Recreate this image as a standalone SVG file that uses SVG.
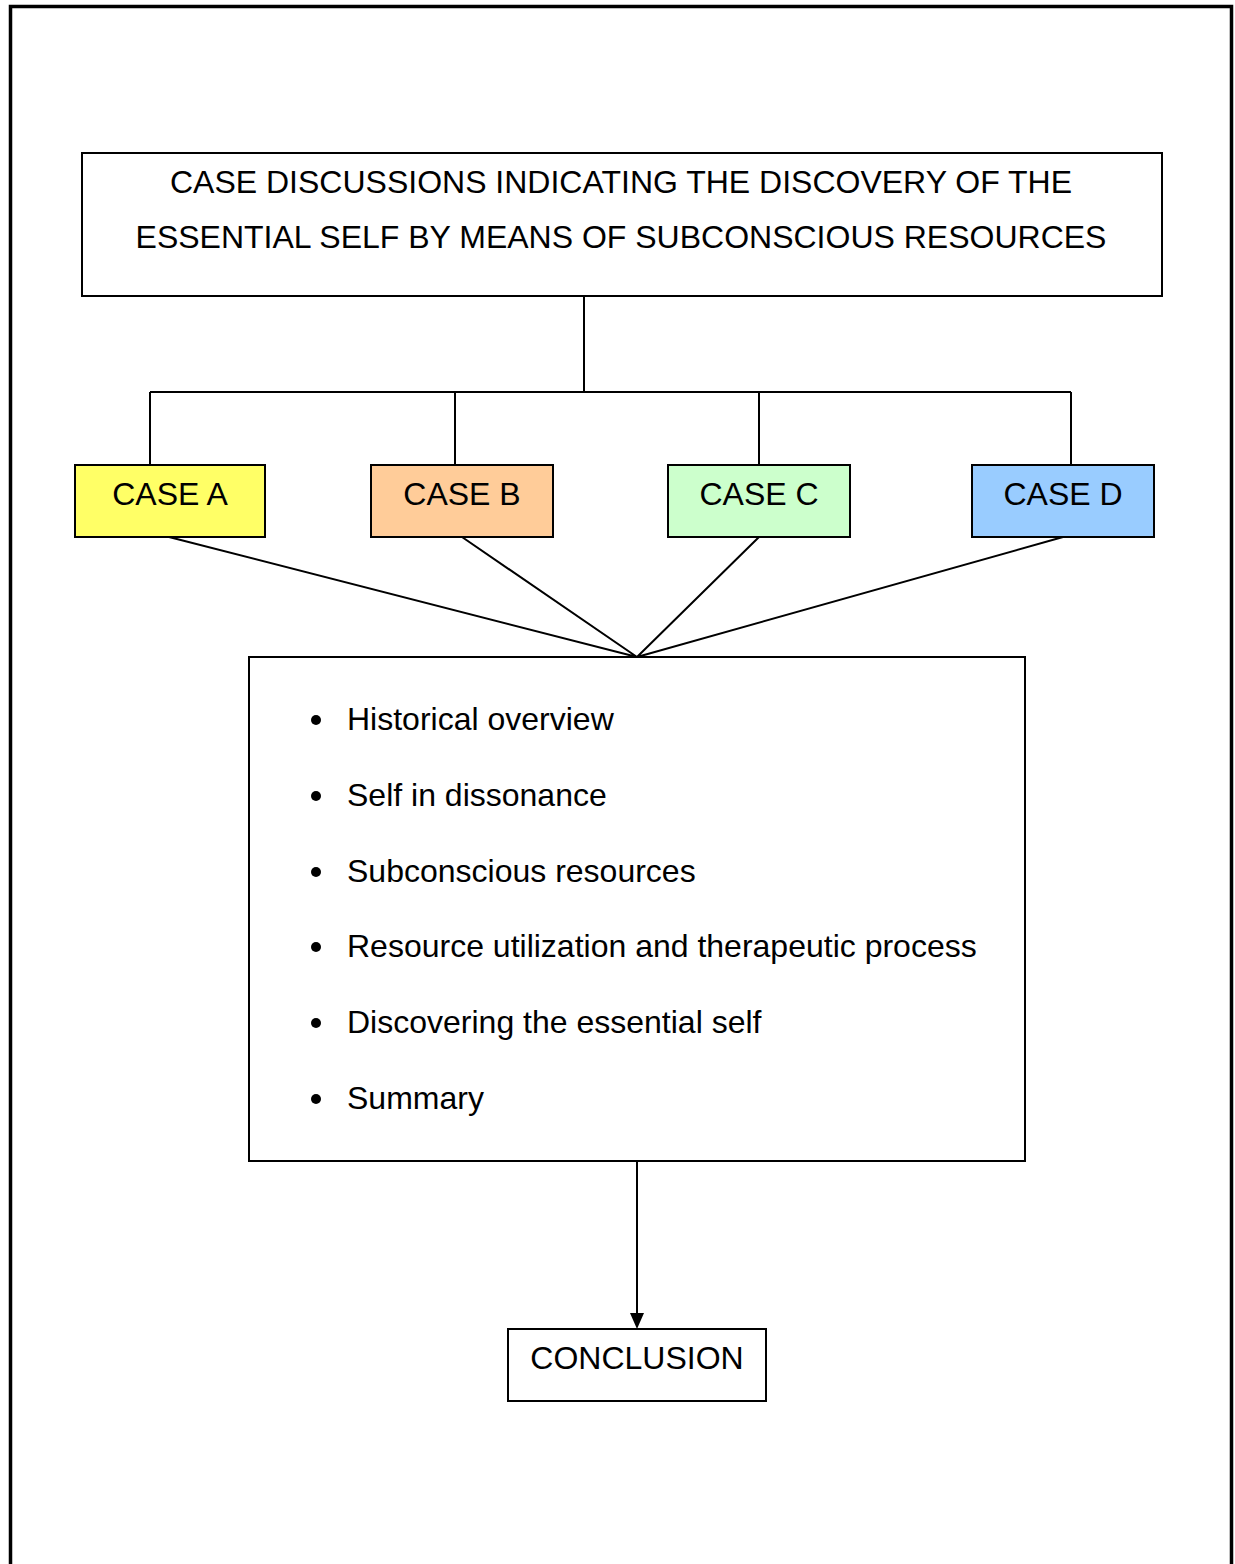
<svg xmlns="http://www.w3.org/2000/svg" width="1235" height="1564" viewBox="0 0 1235 1564">
  <style>
    .box { stroke: #000; stroke-width: 2; }
    .wire { stroke: #000; stroke-width: 2; fill: none; }
    .lbl { font-family: "Liberation Sans", Arial, sans-serif; font-size: 32px; fill: #000; }
    .mid { text-anchor: middle; }
  </style>

  <rect width="1235" height="1564" fill="#fff"/>
  <!-- page frame -->
  <rect x="10.5" y="6.5" width="1221" height="1600" fill="none" stroke="#000" stroke-width="3.5"/>

  <!-- connectors -->
  <g id="connectors">
    <path class="wire" d="M584,296 V392 M150,392 H1071 M150,392 V464 M455,392 V464 M759,392 V464 M1071,392 V464"/>
    <path class="wire" d="M169,537 L637,657 M462,537 L637,657 M759,537 L637,657 M1063,537 L637,657"/>
    <line class="wire" x1="637" y1="1161" x2="637" y2="1313"/>
    <path d="M630,1313 L644,1313 L637,1329 Z" fill="#000"/>
  </g>

  <g id="title">
    <rect class="box" x="82" y="153" width="1080" height="143" fill="#fff"/>
    <text class="lbl mid" x="621" y="193">CASE DISCUSSIONS INDICATING THE DISCOVERY OF THE</text>
    <text class="lbl mid" x="621" y="248">ESSENTIAL SELF BY MEANS OF SUBCONSCIOUS RESOURCES</text>
  </g>

  <g id="case-a">
    <rect class="box" x="75" y="465" width="190" height="72" fill="#ffff66"/>
    <text class="lbl mid" x="170" y="505">CASE A</text>
  </g>
  <g id="case-b">
    <rect class="box" x="371" y="465" width="182" height="72" fill="#ffcc99"/>
    <text class="lbl mid" x="462" y="505">CASE B</text>
  </g>
  <g id="case-c">
    <rect class="box" x="668" y="465" width="182" height="72" fill="#ccffcc"/>
    <text class="lbl mid" x="759" y="505">CASE C</text>
  </g>
  <g id="case-d">
    <rect class="box" x="972" y="465" width="182" height="72" fill="#99ccff"/>
    <text class="lbl mid" x="1063" y="505">CASE D</text>
  </g>

  <g id="topics">
    <rect class="box" x="249" y="657" width="776" height="504" fill="#fff"/>
    <g fill="#000">
      <circle cx="316" cy="720" r="5"/>
      <circle cx="316" cy="796" r="5"/>
      <circle cx="316" cy="872" r="5"/>
      <circle cx="316" cy="947" r="5"/>
      <circle cx="316" cy="1023" r="5"/>
      <circle cx="316" cy="1099" r="5"/>
    </g>
    <text class="lbl" x="347" y="730">Historical overview</text>
    <text class="lbl" x="347" y="806">Self in dissonance</text>
    <text class="lbl" x="347" y="882">Subconscious resources</text>
    <text class="lbl" x="347" y="957">Resource utilization and therapeutic process</text>
    <text class="lbl" x="347" y="1033">Discovering the essential self</text>
    <text class="lbl" x="347" y="1109">Summary</text>
  </g>

  <g id="conclusion">
    <rect class="box" x="508" y="1329" width="258" height="72" fill="#fff"/>
    <text class="lbl mid" x="637" y="1369">CONCLUSION</text>
  </g>
</svg>
